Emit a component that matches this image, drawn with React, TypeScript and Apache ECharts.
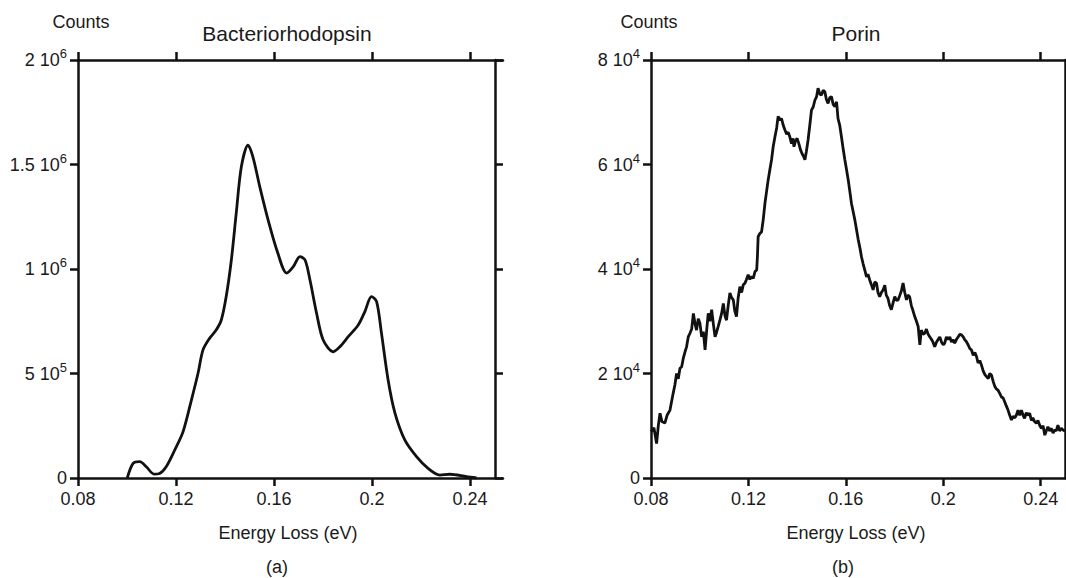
import React, { useEffect, useRef } from 'react';
import * as echarts from 'echarts';

const FONT = '"Liberation Sans", Arial, sans-serif';
const TEXT = '#1a1a1a';
const INK = '#111111';

const xTicks = [0.08, 0.12, 0.16, 0.2, 0.24];
const bacterioYTicks = [0, 5e5, 1e6, 1.5e6, 2e6];
const porinYTicks = [0, 2e4, 4e4, 6e4, 8e4];

const titles = ['Bacteriorhodopsin', 'Porin'];
const panelLabels = ['(a)', '(b)'];
const xAxisName = 'Energy Loss (eV)';
const yAxisName = 'Counts';

// Bacteriorhodopsin spectrum [energy loss (eV), counts]
const bacterioPoints = [
  [0.1001, 0], [0.1025, 70000], [0.1052, 78000], [0.1079, 54000], [0.111, 19000],
  [0.1133, 22000], [0.116, 54000], [0.1195, 134000], [0.1229, 222000], [0.1263, 373000],
  [0.129, 501000], [0.131, 612000], [0.1337, 668000], [0.1364, 708000], [0.1385, 756000],
  [0.1405, 868000], [0.1426, 1043000], [0.1446, 1267000], [0.1467, 1490000], [0.1494, 1593000],
  [0.1514, 1537000], [0.1542, 1394000], [0.1576, 1235000], [0.1616, 1075000], [0.1652, 980000],
  [0.1679, 1011000], [0.1706, 1059000], [0.1727, 1043000], [0.1747, 947000], [0.1774, 788000],
  [0.1801, 660000], [0.1842, 604000], [0.1869, 628000], [0.1903, 676000], [0.1944, 732000],
  [0.1971, 796000], [0.1998, 868000], [0.2019, 844000], [0.2039, 692000], [0.2066, 469000],
  [0.2094, 310000], [0.2134, 182000], [0.2182, 102000], [0.2229, 46000], [0.2277, 14000],
  [0.2318, 18000], [0.2386, 6000], [0.2427, 0],
];

// Porin spectrum [energy loss (eV), counts]
const porinPoints = [
  [0.08, 8900], [0.0812, 9600], [0.0823, 6600], [0.083, 10000], [0.0837, 12400], [0.0845, 10800],
  [0.0857, 10500], [0.0866, 12000], [0.0878, 13000], [0.0891, 16200], [0.0898, 17800], [0.0905, 20000],
  [0.0912, 19000], [0.0919, 21000], [0.0926, 21300], [0.0933, 23000], [0.094, 24200], [0.0946, 25100],
  [0.0953, 27000], [0.096, 27700], [0.0967, 28500], [0.0974, 31500], [0.0981, 29500], [0.0987, 28300],
  [0.0994, 30500], [0.1001, 29600], [0.1008, 27000], [0.1015, 28000], [0.1022, 24500], [0.1029, 28500],
  [0.1035, 31500], [0.1042, 30000], [0.1049, 32200], [0.1056, 29500], [0.1063, 27000], [0.107, 28000],
  [0.1076, 29000], [0.1083, 30200], [0.109, 31500], [0.1097, 33400], [0.1104, 31000], [0.111, 30200],
  [0.1117, 33000], [0.1124, 35400], [0.1131, 34500], [0.1138, 34100], [0.1144, 32000], [0.1151, 30900],
  [0.1158, 34500], [0.1165, 36600], [0.1172, 35500], [0.1179, 37000], [0.1186, 37300], [0.1192, 38000],
  [0.1199, 38900], [0.1206, 38000], [0.1213, 38600], [0.122, 38200], [0.1227, 39500], [0.1234, 39800],
  [0.1237, 42400], [0.124, 46200], [0.1247, 46800], [0.1254, 47100], [0.1261, 49500], [0.1268, 52600],
  [0.1275, 55000], [0.1281, 57000], [0.1288, 59000], [0.1295, 60900], [0.1302, 63500], [0.1309, 65300],
  [0.1316, 67000], [0.1322, 69200], [0.1329, 68500], [0.1336, 68800], [0.1343, 67500], [0.135, 66600],
  [0.1357, 65800], [0.1363, 66200], [0.137, 65300], [0.1377, 64000], [0.1383, 65000], [0.1387, 63400],
  [0.1394, 64600], [0.14, 65000], [0.1407, 64000], [0.1414, 62800], [0.1421, 62000], [0.1427, 61500],
  [0.1432, 60900], [0.1438, 62500], [0.1445, 64700], [0.1452, 67500], [0.1459, 70400], [0.1466, 71000],
  [0.1473, 72300], [0.148, 73000], [0.1486, 74600], [0.1493, 73500], [0.15, 73300], [0.1507, 74200],
  [0.1514, 73900], [0.152, 72500], [0.1527, 71700], [0.1534, 72800], [0.1541, 73000], [0.1548, 71500],
  [0.1555, 71100], [0.1562, 72000], [0.1568, 68800], [0.1575, 67500], [0.1582, 65300], [0.1589, 63000],
  [0.1596, 60900], [0.1603, 59000], [0.161, 57000], [0.1616, 55000], [0.1623, 52600], [0.163, 51000],
  [0.1637, 49400], [0.1644, 47500], [0.1651, 45600], [0.1658, 44000], [0.1664, 42400], [0.1671, 41000],
  [0.1678, 39800], [0.1685, 38500], [0.1691, 39000], [0.1698, 37900], [0.1705, 37000], [0.1712, 36000],
  [0.1719, 37500], [0.1726, 37300], [0.1732, 35500], [0.1739, 34700], [0.1746, 35500], [0.1753, 36000],
  [0.176, 36900], [0.1766, 35000], [0.1773, 34400], [0.178, 33000], [0.1787, 32200], [0.1794, 33500],
  [0.1801, 34700], [0.1808, 34000], [0.1815, 34100], [0.1822, 35000], [0.1828, 35800], [0.1835, 37300],
  [0.1842, 35500], [0.1849, 34100], [0.1855, 35000], [0.1862, 34700], [0.1869, 33000], [0.1876, 32000],
  [0.1883, 30900], [0.189, 30000], [0.1897, 29000], [0.1904, 25500], [0.191, 28300], [0.1917, 27500],
  [0.1924, 27700], [0.1931, 28500], [0.1938, 27500], [0.1945, 27000], [0.1952, 26500], [0.1958, 26000],
  [0.1965, 25100], [0.1972, 26000], [0.1979, 26500], [0.1986, 27000], [0.1993, 26000], [0.2, 25500],
  [0.2006, 25800], [0.2013, 27000], [0.202, 26500], [0.2027, 27000], [0.2034, 26000], [0.204, 26500],
  [0.2047, 25800], [0.2054, 26500], [0.2061, 27000], [0.2068, 27500], [0.2075, 27400], [0.2082, 27000],
  [0.2088, 26500], [0.2095, 26100], [0.2102, 25500], [0.2109, 24800], [0.2116, 24500], [0.2123, 23500],
  [0.213, 24000], [0.2137, 23200], [0.2143, 22000], [0.215, 22500], [0.2157, 21600], [0.2164, 20500],
  [0.2171, 19800], [0.2178, 19400], [0.2185, 19000], [0.2191, 20000], [0.2198, 19700], [0.2205, 18500],
  [0.2212, 17500], [0.2219, 17000], [0.2225, 16800], [0.2232, 16200], [0.2239, 15500], [0.2246, 15300],
  [0.2253, 14500], [0.2259, 13800], [0.2266, 13000], [0.2273, 12000], [0.228, 11100], [0.2287, 11800],
  [0.2294, 11500], [0.2301, 12100], [0.2307, 13000], [0.2314, 12000], [0.2321, 13000], [0.2328, 12000],
  [0.2334, 11400], [0.2341, 12500], [0.2348, 12000], [0.2355, 12400], [0.2362, 11000], [0.2368, 11500],
  [0.2375, 10800], [0.2382, 10500], [0.2389, 11000], [0.2396, 10100], [0.2403, 9500], [0.241, 10000],
  [0.2417, 8200], [0.2423, 9000], [0.243, 9800], [0.2437, 9000], [0.2444, 9500], [0.2451, 8600],
  [0.2458, 9200], [0.2464, 9000], [0.2471, 10100], [0.2478, 9000], [0.2485, 9500], [0.2492, 9200],
  [0.25, 9000],
];

function sciLabel(v: number): string {
  if (v === 0) return '0';
  const exp = Math.floor(Math.log10(v) + 1e-9);
  const mant = +(v / Math.pow(10, exp)).toFixed(2);
  return `{m|${mant} 10}{s|${exp}}`;
}

const lineStyle = { color: INK, width: 2.5 };

function xAxes(gridIndex: number, max: number) {
  const base = {
    type: 'value',
    gridIndex,
    min: 0.08,
    max,
    axisLine: { show: true, onZero: false, lineStyle },
    splitLine: { show: false },
  };
  return [
    {
      ...base,
      position: 'bottom',
      axisTick: { show: true, inside: false, length: 8, lineStyle, customValues: xTicks },
      axisLabel: {
        show: true,
        customValues: xTicks,
        margin: 12,
        fontSize: 18,
        fontFamily: FONT,
        color: TEXT,
        formatter: (v: number) => String(v),
      },
    },
    {
      ...base,
      position: 'top',
      axisTick: { show: true, inside: false, length: 8, lineStyle, customValues: xTicks },
      axisLabel: { show: false },
    },
  ];
}

function yAxes(gridIndex: number, ticks: number[], rightOffset: number) {
  const base = {
    type: 'value',
    gridIndex,
    min: 0,
    max: ticks[ticks.length - 1],
    interval: ticks[1] - ticks[0],
    axisLine: { show: true, onZero: false, lineStyle },
    axisTick: { show: true, inside: false, length: 8, lineStyle },
    splitLine: { show: false },
  };
  return [
    {
      ...base,
      position: 'left',
      axisLabel: {
        show: true,
        margin: 11,
        fontSize: 18,
        fontFamily: FONT,
        color: TEXT,
        formatter: sciLabel,
        rich: {
          m: { fontSize: 18, fontFamily: FONT, color: TEXT, lineHeight: 26 },
          s: { fontSize: 13, fontFamily: FONT, color: TEXT, lineHeight: 13, verticalAlign: 'top' },
        },
      },
    },
    {
      ...base,
      position: 'right',
      offset: rightOffset,
      axisLabel: { show: false },
    },
  ];
}

function txt(text: string, x: number, y: number, size: number) {
  return {
    type: 'text',
    x,
    y,
    silent: true,
    style: {
      text,
      fill: TEXT,
      fontSize: size,
      fontFamily: FONT,
      align: 'center',
      verticalAlign: 'middle',
    },
  };
}

export default function App() {
  const ref = useRef<HTMLDivElement>(null);

  useEffect(() => {
    if (!ref.current) return;
    const chart = echarts.init(ref.current, undefined, { renderer: 'svg' });
    const option = {
      animation: false,
      backgroundColor: '#ffffff',
      grid: [
        { left: 78, top: 60, width: 425, height: 418 },
        { left: 651, top: 60, width: 414, height: 418 },
      ],
      xAxis: [...xAxes(0, 0.2535), ...xAxes(1, 0.25)],
      yAxis: [...yAxes(0, bacterioYTicks, -8), ...yAxes(1, porinYTicks, 0)],
      series: [
        {
          type: 'line',
          xAxisIndex: 0,
          yAxisIndex: 0,
          data: bacterioPoints,
          showSymbol: false,
          smooth: 0.3,
          silent: true,
          lineStyle: { color: INK, width: 2.8 },
        },
        {
          type: 'line',
          xAxisIndex: 2,
          yAxisIndex: 2,
          data: porinPoints,
          showSymbol: false,
          silent: true,
          lineStyle: { color: INK, width: 2.8 },
        },
      ],
      graphic: [
        txt(yAxisName, 81, 22, 18),
        txt(titles[0], 287, 33, 21),
        txt(xAxisName, 288, 533, 18),
        txt(panelLabels[0], 277, 567, 18),
        txt(yAxisName, 649, 22, 18),
        txt(titles[1], 856, 33, 21),
        txt(xAxisName, 856, 533, 18),
        txt(panelLabels[1], 843, 567, 18),
      ],
    };
    chart.setOption(option as any);
    return () => chart.dispose();
  }, []);

  return (
    <div
      ref={ref}
      style={{ position: 'fixed', left: 0, top: 0, width: 1066, height: 578, background: '#fff' }}
    />
  );
}
